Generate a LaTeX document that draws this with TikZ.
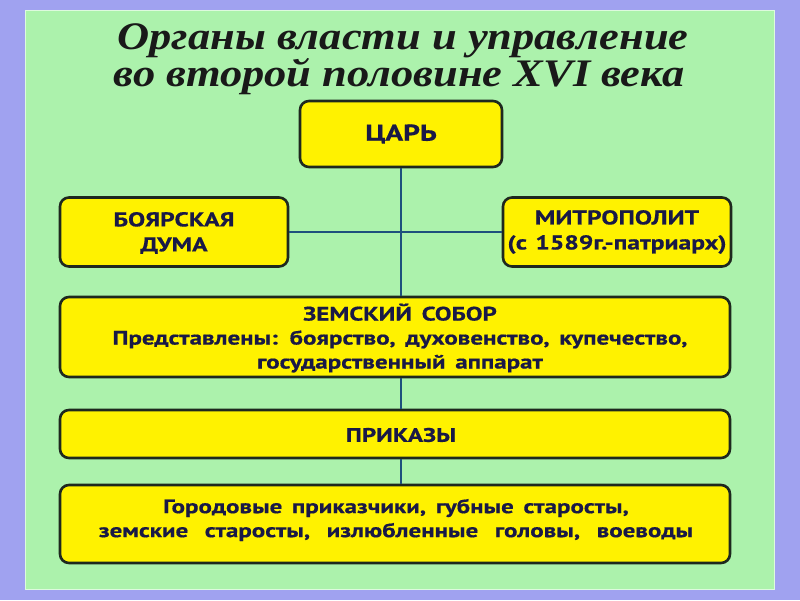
\documentclass[tikz,border=0pt]{standalone}
\usepackage{fontspec}
\setmainfont{PT Sans}
\newfontfamily\boxfont[FakeStretch=1.28, BoldFeatures={FakeBold=0.6}]{PT Sans}
\newfontfamily\titlefont[FakeStretch=1.14]{Liberation Serif}
\newcommand\spA{\spaceskip 0.42em\relax}
\newcommand\spB{\spaceskip 0.5em\relax}
\newcommand\spC{\spaceskip 0.85em\relax}
\definecolor{lavender}{RGB}{160,162,240}
\definecolor{panelgreen}{RGB}{172,242,172}
\definecolor{boxyellow}{RGB}{255,242,0}
\definecolor{boxline}{RGB}{30,40,30}
\definecolor{connblue}{RGB}{30,80,125}
\definecolor{textnavy}{RGB}{25,25,70}
\begin{document}
\begin{tikzpicture}[x=1pt,y=-1pt,
  box/.style={draw=boxline, line width=2.6pt, fill=boxyellow, rounded corners=9pt, inner sep=0pt},
  boxtext/.style={align=center, text=textnavy, inner sep=0pt},
  conn/.style={draw=connblue, line width=2pt},
  f20/.style={font={\boxfont\bfseries\fontsize{20}{25}\selectfont\spA}},
  f19/.style={font={\boxfont\bfseries\fontsize{19.5}{24}\selectfont\spB}},
  f24/.style={font={\boxfont\bfseries\fontsize{23}{25}\selectfont}},
  ttl/.style={font={\titlefont\bfseries\itshape\fontsize{39}{37}\selectfont}, text=black!90, inner sep=0pt, anchor=base}]
\fill[lavender] (0,0) rectangle (800,600);
\fill[panelgreen] (25,10) rectangle (775,590);
\draw[white!60!panelgreen, line width=1pt] (25.5,10.5) rectangle (774.5,589.5);
\useasboundingbox (0,0) rectangle (800,600);

\node[ttl] (title1) at (403,49) {Органы власти и управление};
\node[ttl] (title2) at (399,86) {во второй половине XVI века};

\node[box, minimum width=202, minimum height=66] (tsar) at (401,134) {};
\node[boxtext, f24] (tsart) at (tsar) {ЦАРЬ};
\node[box, minimum width=228, minimum height=69] (duma) at (174,232) {};
\node[boxtext, f20] (dumat) at (174,233) {БОЯРСКАЯ\\ДУМА};
\node[box, minimum width=228, minimum height=69] (mitr) at (617,232) {};
\node[boxtext, f20] (mitrt) at (617,232) {МИТРОПОЛИТ\\(с 1589г.-патриарх)};
\node[box, minimum width=670, minimum height=80] (sobor) at (395,337) {};
\node[boxtext, f19] (sobort) at (400,338)
  {ЗЕМСКИЙ СОБОР\\Представлены: боярство, духовенство, купечество,\\государственный аппарат};
\node[box, minimum width=670, minimum height=48] (prikazy) at (395,434) {};
\node[boxtext, f19] (prikazyt) at (401,435) {ПРИКАЗЫ};
\node[box, minimum width=670, minimum height=78] (local) at (395,524) {};
\node[boxtext, f19] (localt) at (396,520)
  {Городовые приказчики, губные старосты,\\{\spC земские старосты, излюбленные головы, воеводы}};

\draw[conn] (tsar.south) -- (tsar.south |- sobor.north);
\draw[conn] (duma.east) -- (mitr.west);
\draw[conn] (tsar.south |- sobor.south) -- (tsar.south |- prikazy.north);
\draw[conn] (tsar.south |- prikazy.south) -- (tsar.south |- local.north);
\end{tikzpicture}
\end{document}
